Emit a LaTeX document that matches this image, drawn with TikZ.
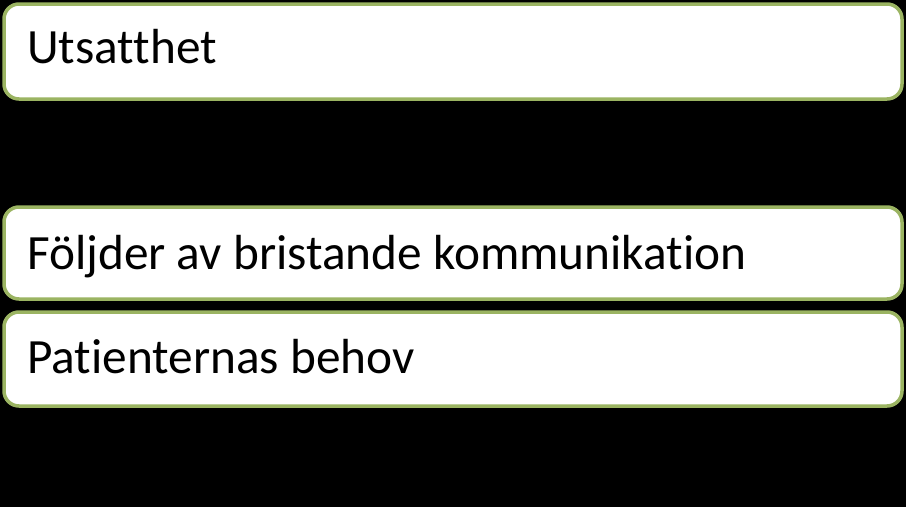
\documentclass[tikz,border=0pt]{standalone}
\usepackage{fontspec}
\setmainfont{Carlito}[Ligatures={NoCommon}]
\definecolor{boxgreen}{HTML}{9BB462}
\tikzset{
  itembox/.style={draw=boxgreen, fill=white, line width=3.5pt, rounded corners=15pt,
    minimum width=898pt, inner sep=0pt},
  itemtext/.style={anchor=base west, inner sep=0pt, font=\fontsize{49.3}{59}\selectfont}
}
\begin{document}
\begin{tikzpicture}[x=1pt, y=-1pt]
  \fill[black] (0,0) rectangle (906,507);
  \useasboundingbox (0,0) rectangle (906,507);

  \node[itembox, minimum height=95pt] (utsatthet) at (453,51.5) {};
  \node[itembox, minimum height=92pt] (foljder) at (453,253) {};
  \node[itembox, minimum height=94pt] (behov) at (453,359) {};

  \node[itemtext] (utsatthettext) at (27,63.5) {Utsatthet};
  \node[itemtext] (foljdertext) at (27,269.5) {Följder av bristande kommunikation};
  \node[itemtext] (behovtext) at (27,373.5) {Patienternas behov};
\end{tikzpicture}
\end{document}
